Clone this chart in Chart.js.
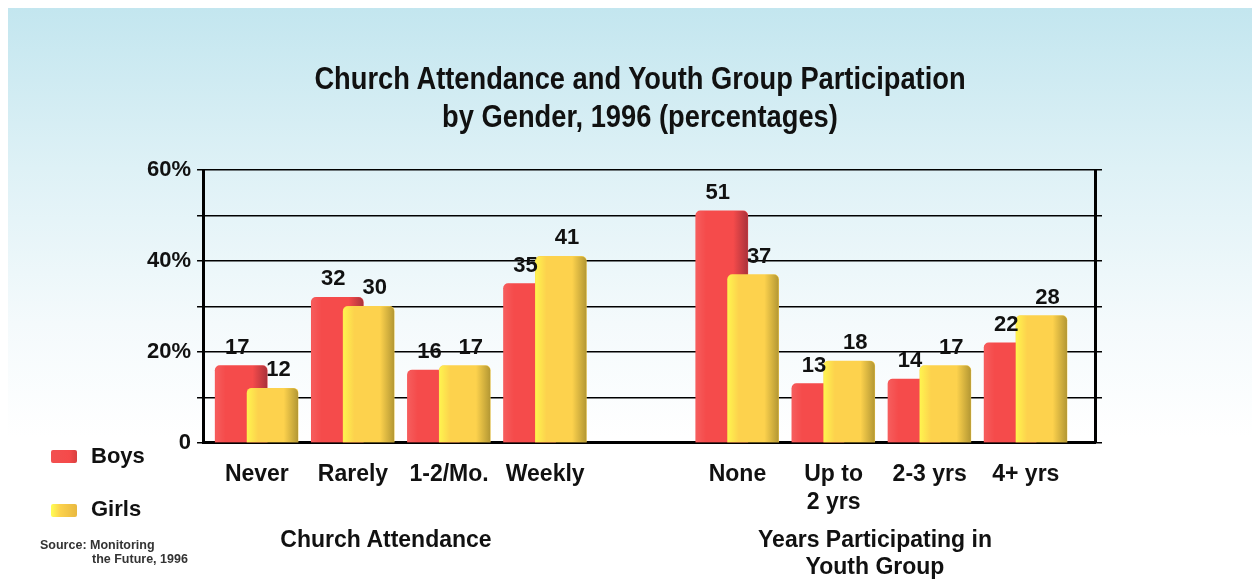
<!DOCTYPE html>
<html>
<head>
<meta charset="utf-8">
<script src="https://cdn.jsdelivr.net/npm/chart.js@4.4.1/dist/chart.umd.min.js"></script>
<style>
  html, body { margin: 0; padding: 0; background: #fff; }
  #wrap { position: relative; width: 1252px; height: 581px; overflow: hidden; font-family: 'Liberation Sans', Arial, sans-serif; }
  #bg { position: absolute; left: 8px; top: 8px; right: 0; bottom: 0;
        background: linear-gradient(to bottom, #c3e6ef 0%, #def1f6 28%, #f4fafc 55%, #ffffff 75%); }
  #myChart { position: absolute; left: 0; top: 0; }
  .txt { position: absolute; font-weight: bold; color: #111; white-space: nowrap; }
  .key { position: absolute; width: 26px; height: 13px; border-radius: 2px; }
  #title { position: absolute; left: 640px; top: 60px; font-size: 31px; line-height: 38px; font-weight: bold;
           color: #111; text-align: center; white-space: nowrap; transform: translateX(-50%) scaleX(0.88); }
</style>
</head>
<body>
<div id="wrap">
  <div id="bg"></div>
  <canvas id="myChart" width="1252" height="581"></canvas>

  <div id="title">Church Attendance and Youth Group Participation<br>by Gender, 1996 (percentages)</div>

  <div class="key" style="left:51px;top:450px;background:linear-gradient(to right,#f25050,#f54a4a 70%,#d84040);"></div>
  <div class="txt" style="left:91px;top:443px;font-size:22px;">Boys</div>
  <div class="key" style="left:51px;top:504px;background:linear-gradient(to right,#ffff55,#fcd24c 35%,#e8b840);"></div>
  <div class="txt" style="left:91px;top:496px;font-size:22px;">Girls</div>

  <div class="txt" style="left:40px;top:538px;font-size:12.5px;color:#333;line-height:14px;">Source: Monitoring<br><span style="padding-left:52px">the Future, 1996</span></div>

  <div class="txt" style="left:386px;top:526px;font-size:23px;transform:translateX(-50%);">Church Attendance</div>
  <div class="txt" style="left:875px;top:526px;font-size:23px;line-height:27px;transform:translateX(-50%);text-align:center;">Years Participating in<br>Youth Group</div>
</div>

<script>
// categories and their slot on the x axis (slot 4 is the gap between the two groups)
const categories = ['Never', 'Rarely', '1-2/Mo.', 'Weekly', 'None', 'Up to\n2 yrs', '2-3 yrs', '4+ yrs'];
const slots = [0, 1, 2, 3, 5, 6, 7, 8];
const boys = [17, 32, 16, 35, 51, 13, 14, 22];
const girls = [12, 30, 17, 41, 37, 18, 17, 28];
const yTicks = [0, 20, 40, 60];

const pairShift = 0.163;   // half the distance between the two overlapping bars

const boysData = slots.map((s, i) => ({ x: s - pairShift, y: boys[i] }));
const girlsData = slots.map((s, i) => ({ x: s + pairShift, y: girls[i] }));

const FONT = "'Liberation Sans', Arial, sans-serif";

// darker side / light edge on each bar, drawn after each dataset so the front bar covers it
const shadePlugin = {
  id: 'shade',
  afterDatasetDraw(chart, args) {
    const ctx = chart.ctx;
    const isGirls = args.meta.label === 'Girls';
    ctx.save();
    args.meta.data.forEach(el => {
      const { x, y, base, width } = el.getProps(['x', 'y', 'base', 'width'], true);
      const left = x - width / 2;
      const g = ctx.createLinearGradient(left, 0, left + width, 0);
      if (isGirls) {
        g.addColorStop(0, 'rgba(255,255,80,0.75)');
        g.addColorStop(0.22, 'rgba(255,255,80,0)');
        g.addColorStop(0.72, 'rgba(90,80,20,0)');
        g.addColorStop(1, 'rgba(90,80,20,0.45)');
      } else {
        g.addColorStop(0, 'rgba(255,255,255,0.1)');
        g.addColorStop(0.2, 'rgba(255,255,255,0)');
        g.addColorStop(0.72, 'rgba(80,20,40,0)');
        g.addColorStop(1, 'rgba(80,20,40,0.45)');
      }
      ctx.fillStyle = g;
      ctx.beginPath();
      ctx.roundRect(left, y, width, base - y, [5, 5, 0, 0]);
      ctx.fill();
    });
    ctx.restore();
  }
};

// numbers above the bars
const valueLabels = {
  id: 'valueLabels',
  afterDatasetsDraw(chart) {
    const ctx = chart.ctx;
    ctx.save();
    ctx.font = 'bold 22px ' + FONT;
    ctx.fillStyle = '#111';
    ctx.textAlign = 'center';
    ctx.textBaseline = 'bottom';
    chart.data.datasets.forEach((ds, di) => {
      const meta = chart.getDatasetMeta(di);
      const dx = ds.label === 'Boys' ? -4 : 6;
      meta.data.forEach((el, i) => {
        ctx.fillText(ds.data[i].y, el.x + dx, el.y - 7);
      });
    });
    ctx.restore();
  }
};

const ctx = document.getElementById('myChart').getContext('2d');
const chartInstance = new Chart(ctx, {
  type: 'bar',
  data: {
    datasets: [
      {
        label: 'Girls',
        data: girlsData,
        backgroundColor: '#fdd24d',
        grouped: false,
        barThickness: 51,
        borderRadius: 5
      },
      {
        label: 'Boys',
        data: boysData,
        backgroundColor: '#f54b4b',
        grouped: false,
        barThickness: 52,
        borderRadius: 5
      }
    ]
  },
  options: {
    responsive: false,
    animation: false,
    devicePixelRatio: 1,
    layout: { padding: { left: 141, right: 150, top: 170, bottom: 47 } },
    plugins: {
      legend: { display: false },
      tooltip: { enabled: false },
      title: { display: false }
    },
    scales: {
      x: {
        type: 'linear',
        min: -0.56,
        max: 8.72,
        offset: false,
        grid: { display: false, drawTicks: false },
        border: { display: true, color: '#000', width: 3 },
        ticks: {
          stepSize: 1,
          includeBounds: false,
          autoSkip: false,
          maxRotation: 0,
          padding: 18,
          color: '#111',
          font: { family: FONT, size: 23, weight: 'bold', lineHeight: 1.2 },
          callback: v => {
            const i = slots.indexOf(v);
            return i < 0 ? '' : categories[i].split('\n');
          }
        }
      },
      y: {
        min: 0,
        max: 60,
        position: 'left',
        grid: { color: '#000', lineWidth: 1.5, tickLength: 6 },
        border: { color: '#000', width: 3 },
        ticks: {
          stepSize: 10,
          padding: 6,
          color: '#111',
          font: { family: FONT, size: 22, weight: 'bold' },
          callback: v => yTicks.includes(v) ? (v === 0 ? '0' : v + '%') : ''
        }
      },
      y2: {
        min: 0,
        max: 60,
        position: 'right',
        grid: { drawOnChartArea: false, color: '#000', lineWidth: 1.5, tickLength: 7 },
        border: { color: '#000', width: 3 },
        ticks: { stepSize: 10, display: false }
      }
    }
  },
  plugins: [shadePlugin, valueLabels]
});
</script>
</body>
</html>
